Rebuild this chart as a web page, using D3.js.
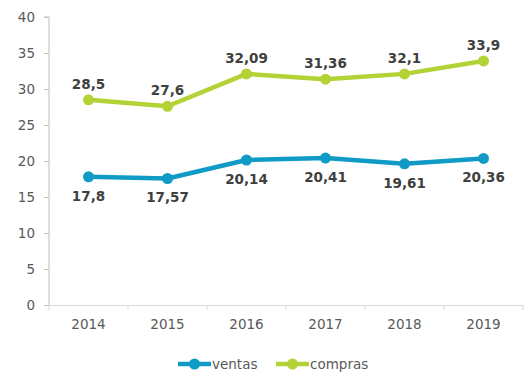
<!DOCTYPE html>
<html>
<head>
<meta charset="utf-8">
<script src="https://cdn.jsdelivr.net/npm/d3@7"></script>
<style>
  html, body { margin: 0; padding: 0; background: #fff; }
  svg { display: block; }
  svg text { font-family: Verdana, "DejaVu Sans", sans-serif; }
</style>
</head>
<body>
<svg id="chart" width="529" height="374"></svg>
<script>
// Years on the category axis
const years = ["2014", "2015", "2016", "2017", "2018", "2019"];
// Series values
const ventas = [17.8, 17.57, 20.14, 20.41, 19.61, 20.36];
const compras = [28.5, 27.6, 32.09, 31.36, 32.1, 33.9];
// Value axis ticks
const yTicks = [0, 5, 10, 15, 20, 25, 30, 35, 40];

const series = [
  { name: "ventas", values: ventas, color: "#0f9bc5", labelPos: "below" },
  { name: "compras", values: compras, color: "#b3d235", labelPos: "above" }
];

const fmt = v => String(v).replace(".", ",");

const svg = d3.select("#chart");
const margin = { left: 49, right: 6, top: 17, bottom: 69 };
const W = 529, H = 374;

const x = d3.scaleBand().domain(years).range([margin.left, W - margin.right]).padding(0);
const y = d3.scaleLinear().domain([0, 40]).range([H - margin.bottom, margin.top]);

// Value axis
const yAxis = svg.append("g")
  .attr("transform", `translate(${margin.left},0)`)
  .call(d3.axisLeft(y).tickValues(yTicks).tickSize(5).tickPadding(9));
yAxis.attr("font-family", null);
yAxis.select(".domain").attr("stroke", "#bfbfbf").attr("d", `M-5,${y(40)}H0V${y(0)}`);
yAxis.selectAll(".tick line").attr("stroke", "#bfbfbf");
yAxis.selectAll(".tick text").attr("fill", "#595959").attr("font-size", "13.5px");

// Category axis
const xAxis = svg.append("g")
  .attr("transform", `translate(0,${y(0)})`)
  .call(d3.axisBottom(x).tickSize(0).tickPadding(14));
xAxis.attr("font-family", null);
xAxis.select(".domain").attr("stroke", "#d9d9d9");
xAxis.selectAll(".tick text").attr("fill", "#595959").attr("font-size", "13.5px");
// category separators
const bounds = years.map(d => x(d)).concat([x(years[years.length - 1]) + x.bandwidth()]);
xAxis.selectAll(".sep").data(bounds).enter().append("line")
  .attr("class", "sep")
  .attr("x1", d => d).attr("x2", d => d)
  .attr("y1", 0).attr("y2", 5)
  .attr("stroke", "#d9d9d9");

const cx = d => x(d) + x.bandwidth() / 2;
const line = d3.line().x(d => cx(d.year)).y(d => y(d.value));

series.forEach(s => {
  const pts = years.map((yr, i) => ({ year: yr, value: s.values[i] }));
  const g = svg.append("g");
  g.append("path")
    .datum(pts)
    .attr("d", line)
    .attr("fill", "none")
    .attr("stroke", s.color)
    .attr("stroke-width", 4.5)
    .attr("stroke-linejoin", "round");
  g.selectAll("circle").data(pts).enter().append("circle")
    .attr("cx", d => cx(d.year))
    .attr("cy", d => y(d.value))
    .attr("r", 5.5)
    .attr("fill", s.color);
  g.selectAll("text").data(pts).enter().append("text")
    .attr("x", d => cx(d.year))
    .attr("y", d => y(d.value) + (s.labelPos === "above" ? -11 : 24))
    .attr("text-anchor", "middle")
    .attr("font-size", "13.5px")
    .attr("font-weight", "bold")
    .attr("fill", "#404040")
    .text(d => fmt(d.value));
});

// Legend
const legend = svg.append("g").attr("transform", "translate(0,364)");
const legendItems = [
  { s: series[0], x0: 178 },
  { s: series[1], x0: 276 }
];
legendItems.forEach(it => {
  legend.append("line")
    .attr("x1", it.x0).attr("x2", it.x0 + 33)
    .attr("y1", 0).attr("y2", 0)
    .attr("stroke", it.s.color).attr("stroke-width", 4.5);
  legend.append("circle")
    .attr("cx", it.x0 + 16.5).attr("cy", 0).attr("r", 5.5)
    .attr("fill", it.s.color);
  legend.append("text")
    .attr("x", it.x0 + 34).attr("y", 4.5)
    .attr("font-size", "13.5px")
    .attr("fill", "#595959")
    .text(it.s.name);
});
</script>
</body>
</html>
